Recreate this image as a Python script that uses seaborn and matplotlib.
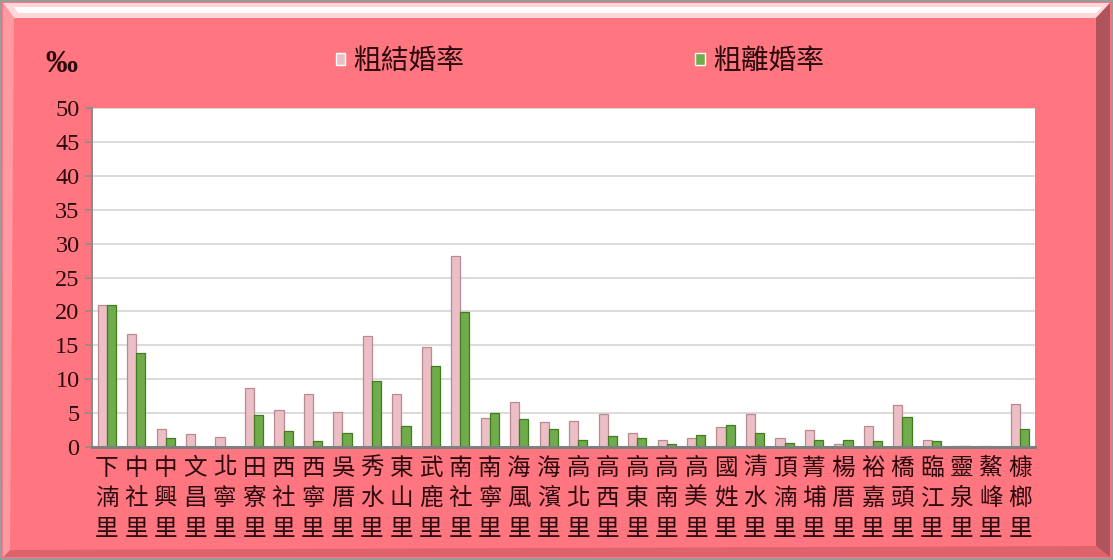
import pandas as pd
import seaborn as sns
import matplotlib.pyplot as plt
from matplotlib.patches import Polygon

W, H = 1113, 560

villages = ["下湳里", "中社里", "中興里", "文昌里", "北寧里", "田寮里", "西社里", "西寧里",
            "吳厝里", "秀水里", "東山里", "武鹿里", "南社里", "南寧里", "海風里", "海濱里",
            "高北里", "高西里", "高東里", "高南里", "高美里", "國姓里", "清水里", "頂湳里",
            "菁埔里", "楊厝里", "裕嘉里", "橋頭里", "臨江里", "靈泉里", "鰲峰里", "槺榔里"]
marriage = [20.9, 16.7, 2.6, 1.9, 1.5, 8.7, 5.4, 7.8,
            5.2, 16.4, 7.8, 14.8, 28.1, 4.3, 6.7, 3.7,
            3.8, 4.8, 2.1, 1.1, 1.3, 3.0, 4.8, 1.3,
            2.5, 0.5, 3.1, 6.2, 1.1, 0.15, 0.15, 6.3]
divorce = [20.9, 13.9, 1.3, 0.0, 0.0, 4.7, 2.3, 0.9,
           2.1, 9.8, 3.1, 11.9, 19.9, 5.0, 4.2, 2.6,
           1.0, 1.6, 1.3, 0.4, 1.7, 3.2, 2.1, 0.6,
           1.1, 1.1, 0.9, 4.4, 0.9, 0.2, 0.0, 2.7]
series = ["粗結婚率", "粗離婚率"]
yticks = list(range(0, 51, 5))

df = pd.DataFrame({
    "里": villages * 2,
    "率": marriage + divorce,
    "類別": [series[0]] * len(villages) + [series[1]] * len(villages),
})

sns.set_theme(style="white")
cjk = ["Noto Sans CJK TC", "DejaVu Sans"]
plt.rcParams["font.family"] = cjk
text_color = "#2b0a0e"

fig = plt.figure(figsize=(W / 100, H / 100), dpi=100, facecolor="#FF7680")


def fp(pts):
    return [(x / W, 1 - y / H) for x, y in pts]


# bevel frame
fig.add_artist(Polygon(fp([(3, 3), (1110, 3), (1096, 18), (14, 18)]), closed=True,
                       transform=fig.transFigure, facecolor="#FFD6DA", edgecolor="none", zorder=-2))
fig.add_artist(Polygon(fp([(14, 7), (1102, 7), (1096, 13), (18, 13)]), closed=True,
                       transform=fig.transFigure, facecolor="#FFFFFF", edgecolor="none", zorder=-2))
fig.add_artist(Polygon(fp([(1110, 3), (1110, 557), (1096, 546), (1096, 18)]), closed=True,
                       transform=fig.transFigure, facecolor="#B0535B", edgecolor="none", zorder=-2))
fig.add_artist(Polygon(fp([(3, 557), (1110, 557), (1096, 546), (10, 550)]), closed=True,
                       transform=fig.transFigure, facecolor="#DE636D", edgecolor="none", zorder=-2))
fig.add_artist(Polygon(fp([(3, 3), (14, 18), (10, 550), (3, 557)]), closed=True,
                       transform=fig.transFigure, facecolor="#FF9AA2", edgecolor="none", zorder=-2))
fig.add_artist(Polygon(fp([(1, 1), (1112, 1), (1112, 559), (1, 559)]), closed=True,
                       transform=fig.transFigure, facecolor="none", edgecolor="#9a9a9a",
                       linewidth=1.5, zorder=-1))

ax = fig.add_axes([92 / W, 1 - 447 / H, (1035 - 92) / W, (447 - 108) / H])
sns.barplot(data=df, x="里", y="率", hue="類別", palette=["#F3B7BF", "#6CBB3C"],
            width=0.62, ax=ax, errorbar=None)

edges = ["#B98A90", "#3F7D1F"]
for cont, ec in zip(ax.containers, edges):
    for bar in cont:
        bar.set_edgecolor(ec)
        bar.set_linewidth(0.9)

handles, labels = ax.get_legend_handles_labels()
ax.get_legend().remove()

ax.set_facecolor("white")
ax.set_ylim(0, 50)
ax.set_xlim(-0.5, len(villages) - 0.5)
ax.set_yticks(yticks)
ax.set_yticklabels([str(t) for t in yticks], family="Liberation Serif", fontsize=17.5,
                   color=text_color)
ax.set_xticks(range(len(villages)))
ax.set_xticklabels(["\n".join(v) for v in villages], fontsize=17, linespacing=1.42,
                   color=text_color, family=cjk)
ax.tick_params(axis="x", length=0, pad=7)
ax.tick_params(axis="y", length=5, width=1.2, color="#8c8c8c", pad=4, left=True)
ax.yaxis.grid(True, color="#d9d9d9", linewidth=1.3)
ax.set_axisbelow(True)
ax.set_xlabel("")
ax.set_ylabel("")
for s in ["top", "right"]:
    ax.spines[s].set_visible(False)
ax.spines["left"].set_color("#8c8c8c")
ax.spines["left"].set_linewidth(1.5)
ax.spines["bottom"].set_color("#7f7f7f")
ax.spines["bottom"].set_linewidth(2.2)

fig.text(45 / W, 1 - 64 / H, "‰", family="Liberation Serif", fontweight="bold",
         fontsize=23, color=text_color, va="center", ha="left")

fig.legend(handles, labels, ncol=2, loc="center", bbox_to_anchor=(580 / W, 1 - 61 / H),
           frameon=False, prop={"family": cjk, "size": 20}, labelcolor=text_color,
           handlelength=0.35, handleheight=0.3, handletextpad=0.3, columnspacing=8.3)

fig.savefig("out.png", dpi=100, facecolor=fig.get_facecolor())
